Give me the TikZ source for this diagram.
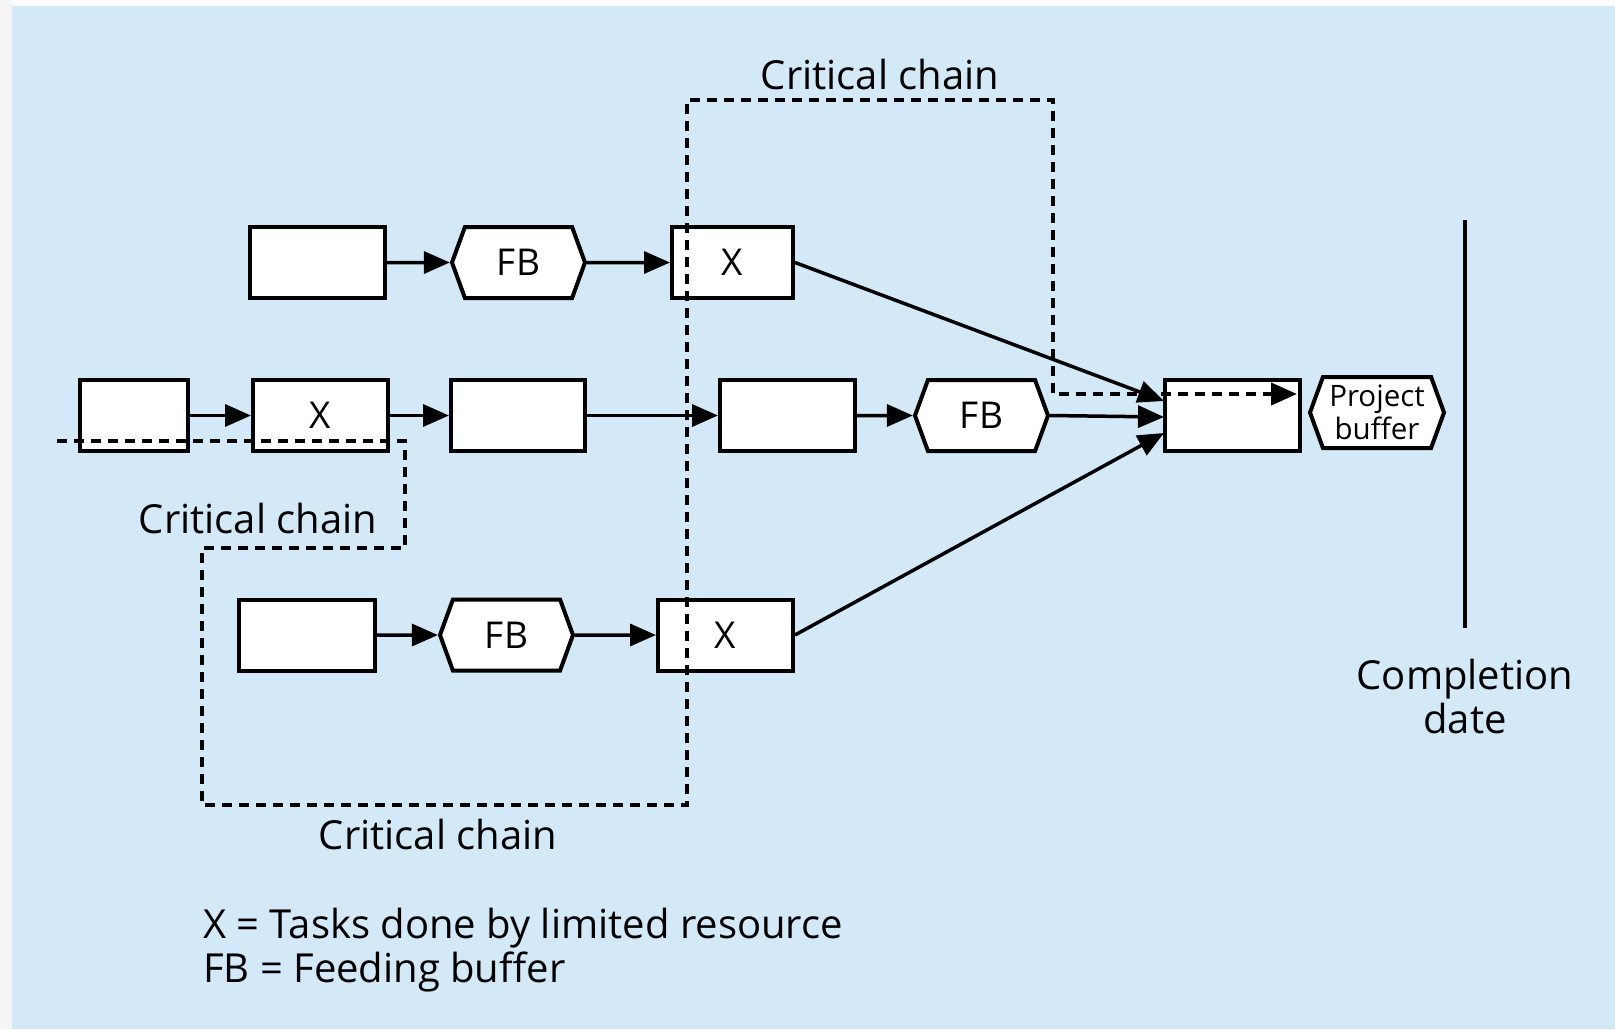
\documentclass[tikz,border=0pt]{standalone}
\usepackage{fontspec}
\setmainfont{Open Sans}
\usetikzlibrary{arrows.meta,shapes.symbols}
\definecolor{bg}{HTML}{D3E9F7}
\begin{document}
\begin{tikzpicture}[x=1pt,y=-1pt,
  task/.style={draw,fill=white,line width=4pt,minimum width=#1,minimum height=71pt,inner sep=0pt,font=\fontsize{37}{44}\selectfont},
  task/.default=135pt,
  fbuf/.style={signal,signal to=west and east,signal pointer angle=140,draw,fill=white,line width=4pt,minimum width=133pt,minimum height=71pt,inner sep=0pt,font=\fontsize{37}{44}\selectfont},
  pbuf/.style={fbuf,font=\fontsize{29.5}{33}\selectfont,align=center,minimum width=134pt},
  arr/.style={line width=3.5pt,-{Triangle[length=26pt,width=22pt]}},
  crit/.style={line width=4pt,dash pattern=on 10pt off 7pt},
  lbl/.style={font=\fontsize{40}{44}\selectfont,inner sep=0pt}
]
\useasboundingbox (0,0) rectangle (1615,1029);
\fill[white] (0,0) rectangle (1615,1029);
\fill[gray!8] (0,0) rectangle (12,1029);
\fill[bg] (12,6) rectangle (1615,1029);

% row 1
\node[task] (a1) at (317.5,262.5) {};
\node[fbuf] (f1) at (518.5,262.5) {FB};
\node[task=121pt] (x1) at (732.5,262.5) {X};
% row 2
\node[task=108pt] (b1) at (134,415.5) {};
\node[task] (b2) at (320.5,415.5) {X};
\node[task=134pt] (b3) at (518,415.5) {};
\node[task] (b4) at (787.5,415.5) {};
\node[fbuf] (f5) at (981.5,415.5) {FB};
\node[task] (fin) at (1232.5,415.5) {};
\node[pbuf] (pb) at (1377,412.5) {Project\\buffer};
% row 3
\node[task=136pt] (c1) at (306.5,635) {};
\node[fbuf] (f3) at (506.5,635) {FB};
\node[task=135pt] (x3) at (725.5,635) {X};

\coordinate (in1) at (1164,401);
\coordinate (in2) at (1164,417);
\coordinate (in3) at (1164,433);

\draw[arr] (a1) -- (f1);
\draw[arr] (f1) -- (x1);
\draw[arr] (b1) -- (b2);
\draw[arr] (b2) -- (b3);
\draw[arr] (b3) -- (b4);
\draw[arr] (b4) -- (f5);
\draw[arr] (f5.east) -- (in2);
\draw[arr] (x1.east) -- (in1);
\draw[arr] (x3.east) -- (in3);
\draw[arr] (c1) -- (f3);
\draw[arr] (f3) -- (x3);

% critical chain
\coordinate (ccstart) at (57,441);
\coordinate (ccend) at (1297,394);
\draw[crit,-{Triangle[length=26pt,width=22pt]}] (ccstart) -- (405,441) -- (405,548) -- (202,548) -- (202,805) -- (687,805) -- (687,100) -- (1053,100) -- (1053,394) -- (ccend);

\node[lbl] (cc1) at (880,74) {Critical chain};
\node[lbl] (cc2) at (258,518) {Critical chain};
\node[lbl] (cc3) at (438,834) {Critical chain};

% completion
\coordinate (cdtop) at (1465,220);
\coordinate (cdbot) at (1465,628);
\draw[line width=4pt] (cdtop) -- (cdbot);
\node[lbl,align=center] (cd) at (1465,696) {Completion\\date};

% legend
\node[lbl,anchor=west,align=left] (leg) at (203,950) {X = Tasks done by limited resource\\FB = Feeding buffer};
\end{tikzpicture}
\end{document}
